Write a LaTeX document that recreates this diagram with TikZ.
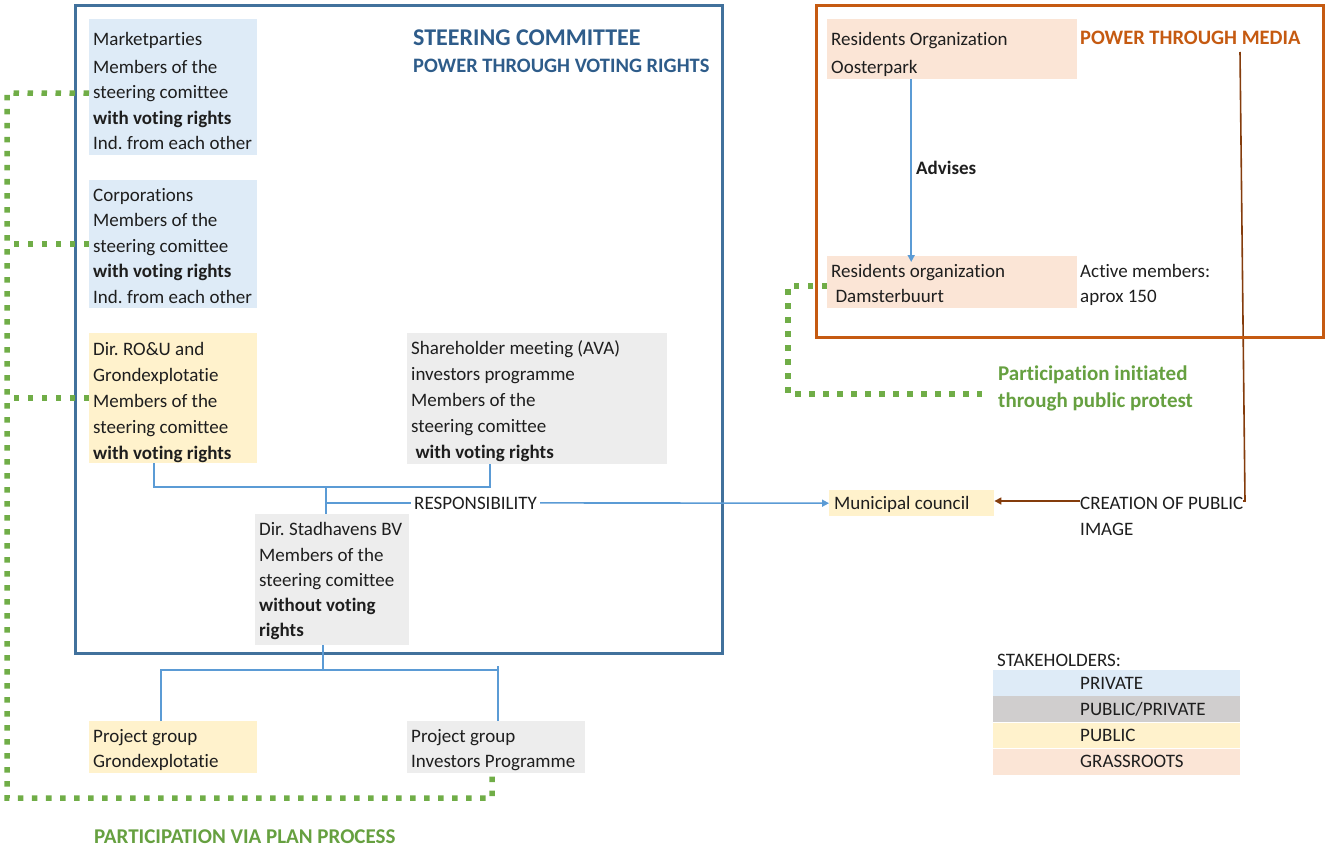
\documentclass[tikz,border=0pt]{standalone}
\usepackage{fontspec}
\setmainfont{Carlito}[Ligatures={NoCommon}]
\usetikzlibrary{arrows.meta,calc}
\pgfdeclarelayer{bg}
\pgfsetlayers{bg,main}
\frenchspacing
\definecolor{cBlueFill}{HTML}{DEEBF7}
\definecolor{cGrayFill}{HTML}{EDEDED}
\definecolor{cYellowFill}{HTML}{FFF2CC}
\definecolor{cPeachFill}{HTML}{FBE5D6}
\definecolor{cLegGray}{HTML}{D0CECE}
\definecolor{cSteer}{HTML}{41719C}
\definecolor{cSteerText}{HTML}{2E5C8A}
\definecolor{cConn}{HTML}{5B9BD5}
\definecolor{cOrange}{HTML}{C55A11}
\definecolor{cBrown}{HTML}{843C0C}
\definecolor{cGreen}{HTML}{70AD47}
\definecolor{cGreenText}{HTML}{66A040}
\definecolor{cText}{HTML}{1E1E1E}
\begin{document}
\begin{tikzpicture}[x=1pt,y=-1pt,
  every node/.style={font=\fontsize{19}{26}\selectfont, text=cText},
  boxfill/.style 2 args={anchor=north west, inner sep=0pt, minimum width=#1, minimum height=#2},
  txt/.style={anchor=north west, inner sep=0pt, align=left, font=\fontsize{19}{#1}\selectfont},
  lbl/.style={inner sep=0pt},
  bld/.style={font=\fontsize{19}{26}\selectfont\bfseries},
  conn/.style={draw=cConn, line width=1.6pt},
  arr/.style={-{Triangle[length=7pt,width=7pt]}},
  gdot/.style={draw=cGreen, line width=5.5pt, dash pattern=on 5.5pt off 8.5pt},
  frame/.style={line width=3pt},
  leg/.style={anchor=north west, inner sep=0pt, minimum width=247pt, minimum height=25.8pt, text width=247pt, align=left}
]
\useasboundingbox (0,0) rectangle (1325,848);

% frames
\draw[frame, draw=cSteer] (75,6) rectangle (722,653);
\draw[frame, draw=cOrange] (816,6) rectangle (1323,337);

% titles
\node[lbl, anchor=base west, text=cSteerText, font=\fontsize{24}{28}\selectfont\bfseries] (steer) at (413,45.7) {STEERING COMMITTEE};
\node[lbl, anchor=base west, text=cSteerText, font=\fontsize{20.5}{24}\selectfont\bfseries] (vote) at (413,72.6) {POWER THROUGH VOTING RIGHTS};
\node[lbl, anchor=base west, text=cOrange, font=\fontsize{20.5}{24}\selectfont\bfseries] (media) at (1080,44.6) {POWER THROUGH MEDIA};

% steering committee boxes
\node[boxfill={168pt}{136pt}, fill=cBlueFill] (mkt) at (89,19) {};
\node[txt=25.5] (mktT) at (93,27) {\strut Marketparties\\[2.5pt]Members of the\\steering comittee\\\textbf{with voting rights}\\Ind. from each other};
\node[boxfill={168pt}{128pt}, fill=cBlueFill] (corp) at (89,180) {};
\node[txt=25.5] (corpT) at (93,183.2) {\strut Corporations\\Members of the\\steering comittee\\\textbf{with voting rights}\\Ind. from each other};
\node[boxfill={168pt}{130pt}, fill=cYellowFill] (ro) at (89,333) {};
\node[txt=26] (roT) at (93,336.8) {\strut Dir. RO\&U and\\Grondexplotatie\\Members of the\\steering comittee\\\textbf{with voting rights}};
\node[boxfill={260pt}{131pt}, fill=cGrayFill] (share) at (407,333) {};
\node[txt=26] (shareT) at (411,335.8) {\strut Shareholder meeting (AVA)\\investors programme\\Members of the\\steering comittee\\\textbf{\ with voting rights}};
\node[boxfill={154pt}{131pt}, fill=cGrayFill] (stad) at (255,514) {};
\node[txt=25.25] (stadT) at (259,518) {\strut Dir. Stadhavens BV\\Members of the\\steering comittee\\\textbf{without voting}\\\textbf{rights}};
\node[boxfill={168pt}{52pt}, fill=cYellowFill] (projgr) at (89,721) {};
\node[txt=25] (projgrT) at (93,724.5) {\strut Project group\\Grondexplotatie};
\node[boxfill={178pt}{52pt}, fill=cGrayFill] (projinv) at (407,721) {};
\node[txt=25] (projinvT) at (411,724.5) {\strut Project group\\Investors Programme};

% right side
\node[boxfill={250pt}{60pt}, fill=cPeachFill] (resoost) at (827,19) {};
\node[txt=28] (resoostT) at (831,25.4) {\strut Residents Organization\\Oosterpark};
\node[boxfill={250pt}{52pt}, fill=cPeachFill] (resdam) at (827,256) {};
\node[txt=25] (resdamT) at (831,259.5) {\strut Residents organization\\\ Damsterbuurt};
\node[txt=25] (active) at (1080,259.5) {\strut Active members:\\aprox 150};
\node[lbl, anchor=base west, bld] (advises) at (916,175) {Advises};
\node[boxfill={165pt}{26pt}, fill=cYellowFill] (muni) at (829,490) {};
\node[lbl, anchor=base west] (muniT) at (834,509) {Municipal council};
\node[lbl, inner xsep=3pt, anchor=base west] (resp) at (411,509) {RESPONSIBILITY};
\node[txt=26, fill=white] (creation) at (1080,490.8) {\strut CREATION OF PUBLIC\\IMAGE};

% green labels
\node[anchor=north west, inner sep=0pt, align=left, text=cGreenText, font=\fontsize{21}{27}\selectfont\bfseries] (protest) at (998,361.1) {\strut Participation initiated\\through public protest};
\node[lbl, anchor=base west, text=cGreenText, font=\fontsize{21}{26}\selectfont\bfseries] (plan) at (94,843.5) {PARTICIPATION VIA PLAN PROCESS};

% legend
\node[lbl, anchor=base west] (stake) at (997,666) {STAKEHOLDERS:};
\node[leg, fill=cBlueFill] (lpriv) at (993,670) {\hspace*{87pt}PRIVATE};
\node[leg, fill=cLegGray] (lpp) at (lpriv.south west) {\hspace*{87pt}PUBLIC/PRIVATE};
\node[leg, fill=cYellowFill] (lpub) at (lpp.south west) {\hspace*{87pt}PUBLIC};
\node[leg, fill=cPeachFill] (lgr) at (lpub.south west) {\hspace*{87pt}GRASSROOTS};

% blue connectors
\coordinate (jn) at (326,487);
\draw[conn] ([xshift=-19pt]ro.south) |- (jn) -| ([xshift=-47pt]share.south);
\draw[conn] (jn) -- (jn |- stad.north);
\draw[conn] (jn |- resp.west) -- (resp.west);
\draw[conn, arr] (resp.east) -- (muni.west);
\coordinate (jn2) at (323,670);
\draw[conn] (jn2 |- stad.south) -- (jn2);
\draw[conn] ([xshift=-12pt]projgr.north) |- (jn2) -| ([xshift=2pt]projinv.north);
\draw[conn] ([xshift=2pt]projinv.north) ++(0,-55) -- ++(0,10);
\draw[conn, arr] ([xshift=-41pt]resoost.south) -- ([xshift=-41pt,yshift=-6pt]resdam.north);

% brown media connector (behind the label)
\coordinate (mtop) at (1240,52);
\coordinate (mbend) at (1245,501);
\begin{pgfonlayer}{bg}
\draw[draw=cBrown, line width=1.6pt, arr] (mtop) -- (mbend) -- (mbend -| muni.east);
\end{pgfonlayer}

% green dotted participation lines
\coordinate (gtop) at (7,93);
\coordinate (gbot) at (7,798);
\draw[gdot] ([yshift=-6pt]mkt.west) -- (gtop) -- (gbot) -| ([xshift=-4pt]projinv.south);
\draw[gdot] (corp.west) -- (corp.west -| gtop);
\draw[gdot] (ro.west) -- (ro.west -| gtop);
\coordinate (pcorner) at (788,394);
\coordinate (pend) at (982,394);
\draw[gdot] ([yshift=-4pt]resdam.west) -| (pcorner) -- (pend);
\end{tikzpicture}
\end{document}
